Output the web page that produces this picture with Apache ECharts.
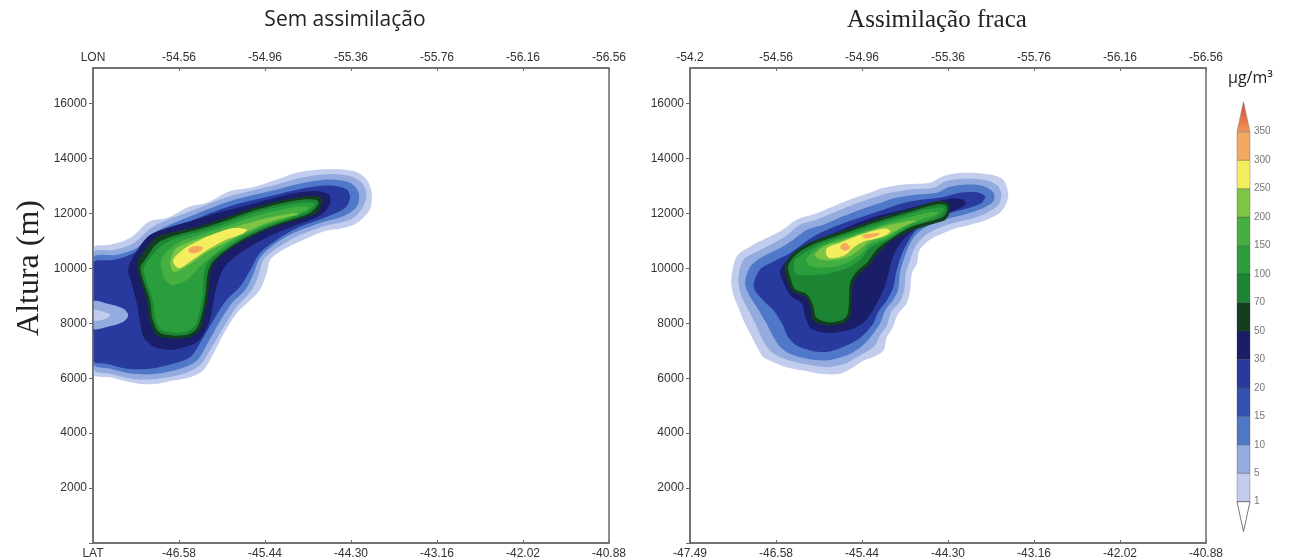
<!DOCTYPE html>
<html><head><meta charset="utf-8">
<script src="https://cdn.jsdelivr.net/npm/echarts@6/dist/echarts.min.js"></script>
<style>html,body{margin:0;padding:0;background:#fff}#c{width:1292px;height:560px}</style>
</head><body><div id="c"></div>
<script>
// ---------- axis tick labels ----------
const lonLabelsSem = ['LON','-54.56','-54.96','-55.36','-55.76','-56.16','-56.56'];
const latLabelsSem = ['LAT','-46.58','-45.44','-44.30','-43.16','-42.02','-40.88'];
const lonLabelsFraca = ['-54.2','-54.56','-54.96','-55.36','-55.76','-56.16','-56.56'];
const latLabelsFraca = ['-47.49','-46.58','-45.44','-44.30','-43.16','-42.02','-40.88'];
const heightMin = 0, heightMax = 17300, heightStep = 2000;

// ---------- colour scale (µg/m³) ----------
const levels = [1,5,10,15,20,30,50,70,100,150,200,250,300,350];
const levelColors = ['#c2cdee','#93abdf','#4f79c8','#3451b0','#283a9e','#1a1d68','#123f1e','#1c8534','#2a9e3c','#45b041','#7cc545','#f2ee5e','#f4a95e'];

// ---------- contour outlines: [position index, height m] ----------
// Sem assimilação
const semL1 = [[0,10740],[0.20,10860],[0.43,11105],[0.66,11715],[0.86,11837],[1.13,12265],[1.32,12387],[1.59,12814],[1.83,12936],[2.14,13241],[2.37,13486],[2.68,13608],[3.03,13547],[3.18,13241],[3.24,12753],[3.22,12142],[3.07,11654],[2.91,11471],[2.68,11349],[2.45,11044],[2.21,10677],[2.06,10311],[2.02,9823],[1.94,9212],[1.83,8846],[1.67,8357],[1.52,7625],[1.40,6892],[1.28,6282],[1.13,6037],[0.93,5915],[0.74,5793],[0.55,5793],[0.35,5915],[0.20,6037],[0,6160]];
const semL5 = [[0,10555],[0.24,10675],[0.47,10920],[0.70,11530],[1.13,12080],[1.59,12630],[2.14,13060],[2.41,13300],[2.68,13425],[2.99,13365],[3.14,13060],[3.18,12630],[3.12,12140],[2.99,11775],[2.68,11530],[2.37,11165],[2.14,10740],[1.98,10310],[1.92,9700],[1.83,9150],[1.67,8600],[1.52,7870],[1.36,7015],[1.24,6465],[1.05,6160],[0.74,5975],[0.47,5975],[0.20,6160],[0,6345]];
const semL10 = [[0,10370],[0.28,10495],[0.51,10740],[0.74,11350],[1.13,11900],[1.59,12450],[2.14,12875],[2.45,13120],[2.76,13240],[2.99,13120],[3.09,12755],[3.07,12265],[2.91,11900],[2.64,11655],[2.33,11290],[2.10,10860],[1.94,10370],[1.86,9760],[1.77,9210],[1.61,8725],[1.46,7990],[1.32,7195],[1.21,6650],[1.01,6345],[0.74,6160],[0.47,6160],[0.20,6345],[0,6525]];
const semL20 = [[0,10190],[0.24,10310],[0.47,10555],[0.70,11105],[1.13,11715],[1.59,12265],[2.14,12690],[2.48,12935],[2.76,13020],[2.95,12875],[2.99,12570],[2.93,12205],[2.68,11835],[2.37,11470],[2.14,11045],[1.94,10555],[1.83,9945],[1.71,9335],[1.55,8845],[1.40,8115],[1.24,7260],[1.13,6770],[0.93,6525],[0.66,6345],[0.39,6345],[0.16,6525],[0,6650]];
const semHole5 = [[0,8785],[0.16,8725],[0.35,8540],[0.41,8295],[0.35,8050],[0.16,7870],[0,7810]];
const semHole1 = [[0,8480],[0.12,8420],[0.20,8295],[0.12,8140],[0,8115]];
const semL30 = [[0.47,10433],[0.64,11166],[0.86,11471],[1.13,11715],[1.44,12020],[1.75,12265],[2.06,12533],[2.37,12753],[2.60,12814],[2.74,12692],[2.76,12387],[2.68,12020],[2.52,11752],[2.29,11495],[2.06,11190],[1.83,10799],[1.63,10372],[1.52,10006],[1.46,9578],[1.41,8968],[1.37,8235],[1.30,7686],[1.21,7320],[1.07,7136],[0.90,7039],[0.70,7161],[0.59,7503],[0.55,7991],[0.51,8724],[0.45,9456],[0.41,9945]];
const semL50 = [[0.55,10433],[0.74,11141],[0.97,11349],[1.24,11532],[1.52,11825],[1.75,12081],[2.02,12350],[2.29,12533],[2.48,12631],[2.64,12606],[2.67,12448],[2.60,12020],[2.48,11874],[2.29,11691],[2.02,11410],[1.75,10995],[1.52,10531],[1.40,10128],[1.36,9762],[1.34,9090],[1.30,8357],[1.24,7747],[1.13,7503],[0.93,7442],[0.74,7564],[0.66,8113],[0.62,8846],[0.55,9578],[0.51,10067]];
const semL70 = [[0.59,10250],[0.75,10921],[0.97,11215],[1.24,11434],[1.52,11715],[1.75,11984],[2.02,12240],[2.29,12436],[2.48,12521],[2.61,12484],[2.62,12350],[2.55,12081],[2.48,11959],[2.29,11764],[2.02,11471],[1.75,11068],[1.52,10604],[1.38,10189],[1.33,9762],[1.31,9090],[1.27,8382],[1.21,7832],[1.11,7600],[0.94,7552],[0.77,7674],[0.69,8174],[0.66,8870],[0.58,9603],[0.55,10042]];
const semL100 = [[0.62,10189],[0.77,10763],[0.97,11105],[1.24,11337],[1.52,11617],[1.75,11886],[2.02,12142],[2.29,12338],[2.48,12411],[2.57,12387],[2.58,12289],[2.52,12142],[2.48,12045],[2.29,11825],[2.02,11532],[1.75,11141],[1.52,10677],[1.36,10311],[1.29,9823],[1.28,9090],[1.24,8418],[1.19,7930],[1.10,7710],[0.95,7661],[0.79,7784],[0.72,8235],[0.69,8907],[0.61,9627],[0.59,10006]];
const semL150 = [[0.79,10067],[0.80,10372],[0.97,10897],[1.24,11215],[1.52,11508],[1.75,11764],[2.02,12020],[2.29,12204],[2.47,12265],[2.51,12216],[2.48,12130],[2.29,11886],[2.02,11593],[1.75,11215],[1.52,10775],[1.38,10433],[1.24,10042],[1.09,9578],[0.93,9395],[0.84,9578]];
const semL200 = [[0.90,10250],[0.97,10738],[1.24,11093],[1.52,11385],[1.75,11605],[2.02,11837],[2.29,11996],[2.39,11996],[2.35,11935],[2.14,11776],[2.02,11654],[1.75,11288],[1.52,10897],[1.34,10616],[1.19,10287],[1.03,9969],[0.93,9884]];
const semL250 = [[0.93,10290],[1.07,10740],[1.24,11030],[1.42,11270],[1.63,11470],[1.79,11420],[1.74,11260],[1.52,11010],[1.32,10650],[1.17,10330],[1.00,10010]];
const semL300 = [[1.11,10702],[1.20,10824],[1.28,10751],[1.24,10604],[1.14,10555]];

// Assimilação fraca
const fracaL1 = [[0.48,9580],[0.54,10430],[0.70,10800],[0.89,11105],[1.05,11350],[1.24,11775],[1.43,11960],[1.67,12265],[1.86,12510],[2.09,12755],[2.25,12935],[2.48,13060],[2.79,13120],[2.95,13365],[3.18,13485],[3.49,13425],[3.64,13240],[3.70,12755],[3.68,12385],[3.60,12020],[3.45,11775],[3.26,11595],[3.10,11470],[2.95,11290],[2.79,11045],[2.67,10675],[2.64,10190],[2.58,9825],[2.56,9210],[2.52,8725],[2.42,8355],[2.36,7870],[2.29,7505],[2.25,7015],[2.13,6770],[2.02,6650],[1.90,6405],[1.74,6160],[1.51,6160],[1.32,6280],[1.12,6405],[0.97,6585],[0.85,6770],[0.78,7135],[0.70,7625],[0.62,8115],[0.56,8600],[0.50,9090]];
const fracaL5 = [[0.56,9580],[0.62,10310],[0.78,10615],[0.97,10920],[1.12,11190],[1.28,11595],[1.47,11775],[1.71,12080],[1.90,12325],[2.13,12570],[2.33,12755],[2.56,12875],[2.83,12935],[2.98,13180],[3.18,13265],[3.45,13215],[3.58,13000],[3.62,12690],[3.59,12325],[3.45,12020],[3.26,11800],[3.06,11655],[2.89,11470],[2.73,11190],[2.62,10800],[2.56,10310],[2.51,9825],[2.49,9210],[2.44,8785],[2.34,8420],[2.29,7930],[2.21,7565],[2.15,7195],[2.05,6955],[1.94,6770],[1.80,6525],[1.59,6405],[1.36,6500],[1.16,6650],[1.01,6830],[0.91,7075],[0.83,7505],[0.76,7990],[0.68,8480],[0.60,8970]];
const fracaL10 = [[0.64,9455],[0.70,10065],[0.85,10435],[1.05,10740],[1.20,11045],[1.36,11410],[1.55,11595],[1.78,11900],[1.98,12140],[2.21,12385],[2.40,12570],[2.64,12690],[2.87,12755],[3.02,12975],[3.22,13060],[3.41,13000],[3.53,12755],[3.53,12450],[3.41,12205],[3.22,11995],[3.02,11835],[2.83,11655],[2.67,11350],[2.56,10920],[2.49,10370],[2.44,9825],[2.42,9210],[2.36,8845],[2.27,8480],[2.21,7990],[2.13,7625],[2.05,7320],[1.96,7075],[1.82,6830],[1.59,6650],[1.36,6710],[1.16,6890],[1.05,7135],[0.97,7505],[0.89,7990],[0.80,8480],[0.70,8970]];
const fracaL20 = [[0.74,9335],[0.81,9945],[0.97,10250],[1.16,10555],[1.32,10920],[1.51,11290],[1.74,11595],[2.02,11900],[2.25,12140],[2.48,12385],[2.71,12510],[2.95,12605],[3.14,12755],[3.33,12775],[3.43,12630],[3.39,12385],[3.24,12205],[3.02,12020],[2.83,11835],[2.67,11530],[2.56,11105],[2.46,10495],[2.40,9885],[2.36,9275],[2.29,8845],[2.19,8420],[2.13,7990],[2.05,7685],[1.94,7380],[1.78,7135],[1.59,6955],[1.40,7015],[1.24,7195],[1.14,7505],[1.07,7990],[0.97,8480],[0.85,8845]];
const fracaL30 = [[1.05,9945],[1.20,10495],[1.40,10920],[1.63,11225],[1.90,11595],[2.17,11900],[2.48,12140],[2.79,12385],[3.02,12535],[3.18,12510],[3.20,12325],[3.06,12080],[2.83,11835],[2.64,11470],[2.48,11045],[2.36,10435],[2.31,9825],[2.25,9210],[2.17,8725],[2.09,8296],[1.98,7930],[1.80,7722],[1.59,7649],[1.41,7808],[1.34,8235],[1.30,8724],[1.18,8968],[1.09,9456]];
const fracaL50 = [[1.10,10065],[1.18,10495],[1.36,10895],[1.63,11225],[2.02,11630],[2.29,11925],[2.60,12205],[2.87,12450],[3.00,12385],[3.02,12080],[2.97,11775],[2.79,11595],[2.56,11350],[2.33,10985],[2.19,10555],[2.09,10130],[1.96,9760],[1.89,9395],[1.88,8845],[1.86,8235],[1.78,7990],[1.59,7930],[1.43,8115],[1.40,8600],[1.34,8970],[1.20,9150],[1.13,9580]];
const fracaL70 = [[1.14,10040],[1.21,10435],[1.38,10800],[1.64,11115],[2.02,11530],[2.30,11825],[2.60,12105],[2.87,12340],[2.98,12290],[2.99,12080],[2.94,11875],[2.78,11705],[2.54,11460],[2.30,10995],[2.16,10655],[2.06,10215],[1.93,9860],[1.86,9455],[1.85,8845],[1.83,8320],[1.76,8100],[1.60,8040],[1.47,8210],[1.43,8665],[1.36,9055],[1.22,9250],[1.17,9640]];
const fracaL100 = [[1.22,9823],[1.21,10250],[1.24,10372],[1.47,10824],[1.74,11141],[2.02,11434],[2.29,11727],[2.56,11984],[2.79,12179],[2.94,12216],[2.95,12118],[2.91,11959],[2.79,11776],[2.56,11532],[2.29,11044],[2.09,10738],[1.98,10311],[1.82,10006],[1.63,9823],[1.43,9762],[1.30,9762]];
const fracaL150 = [[1.38,10128],[1.36,10372],[1.47,10702],[1.59,10897],[1.74,11068],[2.02,11337],[2.29,11630],[2.56,11874],[2.79,12045],[2.89,12045],[2.85,11935],[2.79,11874],[2.56,11630],[2.29,11117],[2.09,10860],[1.98,10494],[1.82,10189],[1.63,10042],[1.45,10042]];
const fracaL200 = [[1.51,10336],[1.45,10494],[1.57,10830],[1.74,10990],[2.02,11300],[2.29,11560],[2.56,11740],[2.64,11727],[2.58,11654],[2.40,11385],[2.29,11190],[2.09,10983],[1.98,10702],[1.82,10400],[1.63,10300]];
const fracaL250 = [[1.58,10531],[1.60,10760],[1.74,10930],[1.90,11140],[2.09,11330],[2.27,11450],[2.33,11361],[2.29,11230],[2.17,11090],[2.02,10980],[1.90,10750],[1.80,10480],[1.63,10370]];
const fracaL300a = [[2.00,11190],[2.09,11263],[2.21,11288],[2.17,11178],[2.04,11093]];
const fracaL300b = [[1.76,10860],[1.82,10921],[1.86,10738],[1.80,10653],[1.75,10738]];

// drawing order: [lower bound of band, outline]
const semContours = [[1,semL1],[5,semL5],[10,semL10],[20,semL20],[5,semHole5],[1,semHole1],[30,semL30],[50,semL50],[70,semL70],[100,semL100],[150,semL150],[200,semL200],[250,semL250],[300,semL300]];
const fracaContours = [[1,fracaL1],[5,fracaL5],[10,fracaL10],[20,fracaL20],[30,fracaL30],[50,fracaL50],[70,fracaL70],[100,fracaL100],[150,fracaL150],[200,fracaL200],[250,fracaL250],[300,fracaL300a],[300,fracaL300b]];

// ---------- chart ----------
const chart = echarts.init(document.getElementById('c'), null, {renderer:'canvas'});
function colorOf(level){ return levelColors[levels.indexOf(level)]; }

function contourSeries(g, contours){
  return {
    type:'custom', coordinateSystem:'cartesian2d', xAxisIndex:g*2, yAxisIndex:g, clip:true, silent:true, z:2,
    data: contours.map((c,i)=>[c[1][0][0], c[1][0][1], i]),
    renderItem:(params, api)=>{
      const c = contours[params.dataIndex];
      return {type:'polygon', silent:true,
        shape:{points:c[1].map(p=>api.coord(p)), smooth:0.3},
        style:{fill:colorOf(c[0])}};
    }
  };
}

const tickText = {fontFamily:'Liberation Sans', fontSize:12, color:'#333'};
const frameLine = {show:true, lineStyle:{color:'#6a6a6a', width:1.5}};

function xAxesFor(g, bottomLabels, topLabels){
  const base = {type:'value', gridIndex:g, min:0, max:6, interval:1, splitLine:{show:false},
    axisLine:frameLine, axisTick:{show:true, inside:true, length:3, lineStyle:{color:'#6a6a6a'}}, z:5};
  return [
    Object.assign({}, base, {position:'bottom', axisLabel:Object.assign({}, tickText, {margin:5, formatter:v=>bottomLabels[Math.round(v)]})}),
    Object.assign({}, base, {position:'top', axisLabel:Object.assign({}, tickText, {margin:4, formatter:v=>topLabels[Math.round(v)]})})
  ];
}
function yAxisFor(g){
  return {type:'value', gridIndex:g, min:heightMin, max:heightMax, interval:heightStep, position:'left',
    splitLine:{show:false}, axisLine:frameLine, z:5,
    axisTick:{show:true, inside:false, length:4, lineStyle:{color:'#6a6a6a'}},
    axisLabel:Object.assign({}, tickText, {margin:6, showMaxLabel:false,
      formatter:v=>(v>0 && v%heightStep===0 && v<heightMax) ? String(v) : ''})};
}

const nBands = levelColors.length;
const cbSeries = {
  type:'custom', coordinateSystem:'cartesian2d', xAxisIndex:4, yAxisIndex:2, clip:false, silent:true,
  data: levelColors.map((c,i)=>[0.5,i+0.5]).concat([[0.5,0.2],[0.5,12.8]]),
  renderItem:(params, api)=>{
    const i = params.dataIndex;
    if(i<nBands){
      const a = api.coord([0,i]), b = api.coord([1,i+1]);
      return {type:'rect', shape:{x:a[0], y:b[1], width:b[0]-a[0], height:a[1]-b[1]},
        style:{fill:levelColors[i], stroke:'rgba(50,50,50,0.45)', lineWidth:0.6}};
    }
    if(i===nBands){
      return {type:'polygon', shape:{points:[api.coord([0,0]),api.coord([1,0]),api.coord([0.5,-1.05])]},
        style:{fill:'#ffffff', stroke:'#555', lineWidth:0.8}};
    }
    return {type:'polygon', shape:{points:[api.coord([0,nBands]),api.coord([1,nBands]),api.coord([0.5,nBands+1.05])]},
      style:{fill:new echarts.graphic.LinearGradient(0,0,0,1,[{offset:0,color:'#d9442f'},{offset:1,color:'#f2965a'}]), stroke:'#888', lineWidth:0.6}};
  }
};

const option = {
  backgroundColor:'#ffffff',
  animation:false,
  title:[
    {text:'Sem assimilação', left:345, top:10, textAlign:'center', padding:0,
      textStyle:{fontFamily:'Open Sans', fontSize:21, fontWeight:'normal', color:'#222'}},
    {text:'Assimilação fraca', left:937, top:8, textAlign:'center', padding:0,
      textStyle:{fontFamily:'Liberation Serif', fontSize:25, fontWeight:'normal', color:'#222'}},
    {text:'µg/m³', left:1228, top:70, padding:0,
      textStyle:{fontFamily:'Open Sans', fontSize:16, fontWeight:'normal', color:'#222'}}
  ],
  graphic:[
    {type:'text', x:30, y:268, rotation:Math.PI/2,
      style:{text:'Altura (m)', fontFamily:'Liberation Serif', fontSize:32, fill:'#222', align:'center', verticalAlign:'middle', textAlign:'center', textVerticalAlign:'middle'}}
  ],
  grid:[
    {left:93, top:68, width:516, height:476, show:true, borderColor:'#6a6a6a', borderWidth:1.5, backgroundColor:'#fff'},
    {left:690, top:68, width:516, height:476, show:true, borderColor:'#6a6a6a', borderWidth:1.5, backgroundColor:'#fff'},
    {left:1237, top:131.7, width:13, height:370}
  ],
  xAxis:[].concat(xAxesFor(0, latLabelsSem, lonLabelsSem), xAxesFor(1, latLabelsFraca, lonLabelsFraca),
    [{type:'value', gridIndex:2, min:0, max:1, show:false}]),
  yAxis:[yAxisFor(0), yAxisFor(1),
    {type:'value', gridIndex:2, min:0, max:nBands, interval:1, position:'right',
      axisLine:{show:false}, axisTick:{show:false}, splitLine:{show:false},
      axisLabel:{fontFamily:'Liberation Sans', fontSize:10, color:'#777', margin:4,
        formatter:v=>String(levels[Math.round(v)])}}],
  series:[contourSeries(0, semContours), contourSeries(1, fracaContours), cbSeries]
};
chart.setOption(option);
</script>
</body></html>
